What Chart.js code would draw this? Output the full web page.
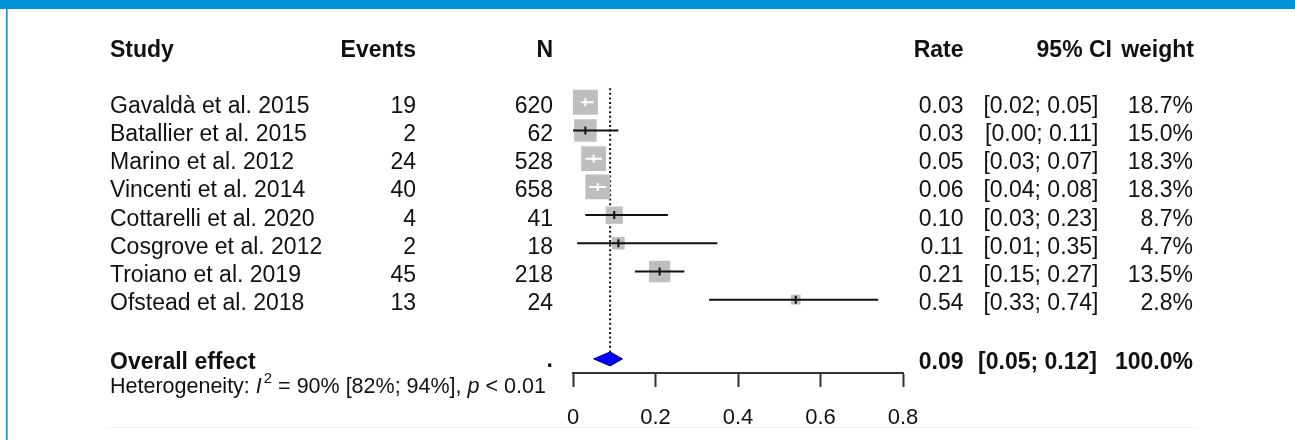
<!DOCTYPE html>
<html>
<head>
<meta charset="utf-8">
<script src="https://cdn.jsdelivr.net/npm/chart.js@4.4.1/dist/chart.umd.min.js"></script>
<style>
html, body { margin: 0; padding: 0; background: #ffffff; }
#wrap { position: relative; width: 1295px; height: 440px; overflow: hidden; }
canvas { display: block; }
</style>
</head>
<body>
<div id="wrap"><canvas id="forest" width="1295" height="440"></canvas></div>
<script>
// ---------------- data ----------------
const studies  = ["Gavaldà et al. 2015", "Batallier et al. 2015", "Marino et al. 2012", "Vincenti et al. 2014",
                  "Cottarelli et al. 2020", "Cosgrove et al. 2012", "Troiano et al. 2019", "Ofstead et al. 2018"];
const events   = [19, 2, 24, 40, 4, 2, 45, 13];
const totals   = [620, 62, 528, 658, 41, 18, 218, 24];
const rates    = [0.03, 0.03, 0.05, 0.06, 0.10, 0.11, 0.21, 0.54];
const ciLower  = [0.02, 0.00, 0.03, 0.04, 0.03, 0.01, 0.15, 0.33];
const ciUpper  = [0.05, 0.11, 0.07, 0.08, 0.23, 0.35, 0.27, 0.74];
const weights  = [18.7, 15.0, 18.3, 18.3, 8.7, 4.7, 13.5, 2.8];
const overall  = [0.09, 0.05, 0.12, 100.0];          // rate, lower, upper, weight
const hetero   = [90, 82, 94];                        // I2, lower, upper (%)
const heteroP  = "< 0.01";
const headers  = ["Study", "Events", "N", "Rate", "95% CI", "weight"];
const xTicks   = [0, 0.2, 0.4, 0.6, 0.8];

// ---------------- layout / style ----------------
const FONT = "'Liberation Sans', Arial, Helvetica, sans-serif";
const HEADER_ROW = -2;
const OVERALL_ROW = 9.1;
const SQ = 5.8;               // square side per sqrt(weight)
const BLUE = '#0093d8';

function sideOf(w) { return SQ * Math.sqrt(w); }

const forestPlugin = {
  id: 'forest',
  beforeDatasetsDraw(chart) {
    const ctx = chart.ctx, xs = chart.scales.x, ys = chart.scales.y;
    // dotted reference line at the pooled estimate
    const xp = xs.getPixelForValue(overall[0]);
    ctx.save();
    ctx.strokeStyle = '#111';
    ctx.lineWidth = 2;
    ctx.setLineDash([2, 2.6]);
    ctx.beginPath();
    ctx.moveTo(xp, ys.getPixelForValue(-0.5));
    ctx.lineTo(xp, ys.getPixelForValue(OVERALL_ROW) - 7);
    ctx.stroke();
    ctx.restore();
  },
  afterDatasetsDraw(chart) {
    const ctx = chart.ctx, xs = chart.scales.x, ys = chart.scales.y;
    ctx.save();
    // confidence intervals
    rates.forEach((r, i) => {
      const y = ys.getPixelForValue(i);
      const x0 = xs.getPixelForValue(ciLower[i]);
      const x1 = xs.getPixelForValue(ciUpper[i]);
      const xm = xs.getPixelForValue(r);
      const inside = (x1 - x0) < sideOf(weights[i]);
      ctx.strokeStyle = inside ? '#ffffff' : '#111111';
      ctx.lineWidth = 2;
      ctx.beginPath();
      ctx.moveTo(x0, y); ctx.lineTo(x1, y);
      ctx.moveTo(xm, y - 4); ctx.lineTo(xm, y + 4);
      ctx.stroke();
    });
    // pooled diamond
    const yo = ys.getPixelForValue(OVERALL_ROW);
    const xl = xs.getPixelForValue(overall[1]);
    const xe = xs.getPixelForValue(overall[0]);
    const xr = xs.getPixelForValue(overall[2]);
    ctx.beginPath();
    ctx.moveTo(xl, yo); ctx.lineTo(xe, yo - 7); ctx.lineTo(xr, yo); ctx.lineTo(xe, yo + 7); ctx.closePath();
    ctx.fillStyle = '#0000ff';
    ctx.fill();
    ctx.strokeStyle = '#00007a';
    ctx.lineWidth = 1;
    ctx.stroke();
    ctx.restore();
  },
  afterDraw(chart) {
    const ctx = chart.ctx, ys = chart.scales.y;
    ctx.save();
    // frame decorations
    ctx.fillStyle = BLUE;
    ctx.fillRect(0, 0, 1295, 9);
    ctx.fillRect(6, 9, 1.6, 431);
    ctx.fillStyle = '#efefef';
    ctx.fillRect(107, 427, 1090, 1);

    ctx.fillStyle = '#111';
    ctx.textBaseline = 'alphabetic';
    const text = (s, x, y, align, font) => { ctx.font = font; ctx.textAlign = align; ctx.fillText(s, x, y); };
    const reg = `23px ${FONT}`, bold = `bold 23px ${FONT}`;

    // header
    const yh = ys.getPixelForValue(HEADER_ROW) + 11;
    text(headers[0], 110, yh, 'left', bold);
    text(headers[1], 416, yh, 'right', bold);
    text(headers[2], 553, yh, 'right', bold);
    text(headers[3], 963.5, yh, 'right', bold);
    text(headers[4], 1112, yh, 'right', bold);
    text(headers[5], 1194, yh, 'right', bold);

    // study rows
    studies.forEach((s, i) => {
      const y = ys.getPixelForValue(i) + 10.5;
      text(s, 110, y, 'left', reg);
      text(String(events[i]), 416, y, 'right', reg);
      text(String(totals[i]), 553, y, 'right', reg);
      text(rates[i].toFixed(2), 963.5, y, 'right', reg);
      text(`[${ciLower[i].toFixed(2)}; ${ciUpper[i].toFixed(2)}]`, 1098.5, y, 'right', reg);
      text(weights[i].toFixed(1) + '%', 1193, y, 'right', reg);
    });

    // overall row
    const yo = ys.getPixelForValue(OVERALL_ROW) + 10.5;
    text('Overall effect', 110, yo, 'left', bold);
    text('.', 553, yo - 2, 'right', bold);
    text(overall[0].toFixed(2), 963.5, yo, 'right', bold);
    text(`[${overall[1].toFixed(2)}; ${overall[2].toFixed(2)}]`, 1097, yo, 'right', bold);
    text(overall[3].toFixed(1) + '%', 1193, yo, 'right', bold);

    // heterogeneity line
    const yhg = ys.getPixelForValue(OVERALL_ROW) + 34;
    const fs = 21.5;
    let x = 110;
    const seg = (s, font, dy = 0) => { ctx.font = font; ctx.textAlign = 'left'; ctx.fillText(s, x, yhg + dy); x += ctx.measureText(s).width; };
    seg('Heterogeneity: ', `${fs}px ${FONT}`);
    seg('I', `italic ${fs}px ${FONT}`);
    x += 2;
    seg('2', `15px ${FONT}`, -10);
    seg(` = ${hetero[0]}% [${hetero[1]}%; ${hetero[2]}%], `, `${fs}px ${FONT}`);
    seg('p', `italic ${fs}px ${FONT}`);
    seg(' ' + heteroP, `${fs}px ${FONT}`);
    ctx.restore();
  }
};

new Chart(document.getElementById('forest'), {
  type: 'scatter',
  data: {
    datasets: [{
      data: rates.map((r, i) => ({ x: r, y: i })),
      pointStyle: 'rect',
      pointRadius: weights.map(w => sideOf(w) / Math.SQRT2),
      pointHoverRadius: weights.map(w => sideOf(w) / Math.SQRT2),
      backgroundColor: '#bebebe',
      borderWidth: 0
    }]
  },
  options: {
    responsive: false,
    animation: false,
    events: [],
    layout: { padding: { left: 573, right: 392, top: 16, bottom: 0 } },
    plugins: { legend: { display: false }, tooltip: { enabled: false } },
    scales: {
      x: {
        type: 'linear',
        min: 0, max: 0.8,
        afterBuildTicks: s => { s.ticks = xTicks.map(v => ({ value: v })); },
        afterFit: s => { s.height = 67; },
        ticks: {
          callback: v => String(v),
          font: { family: FONT, size: 22 },
          color: '#111',
          padding: 18,
          maxRotation: 0,
          autoSkip: false
        },
        grid: { drawOnChartArea: false, drawTicks: true, tickLength: 14, tickWidth: 2, tickColor: '#333' },
        border: { display: true, color: '#333', width: 2 }
      },
      y: { type: 'linear', reverse: true, min: -3, max: 9.6, display: false }
    }
  },
  plugins: [forestPlugin]
});
</script>
</body>
</html>
